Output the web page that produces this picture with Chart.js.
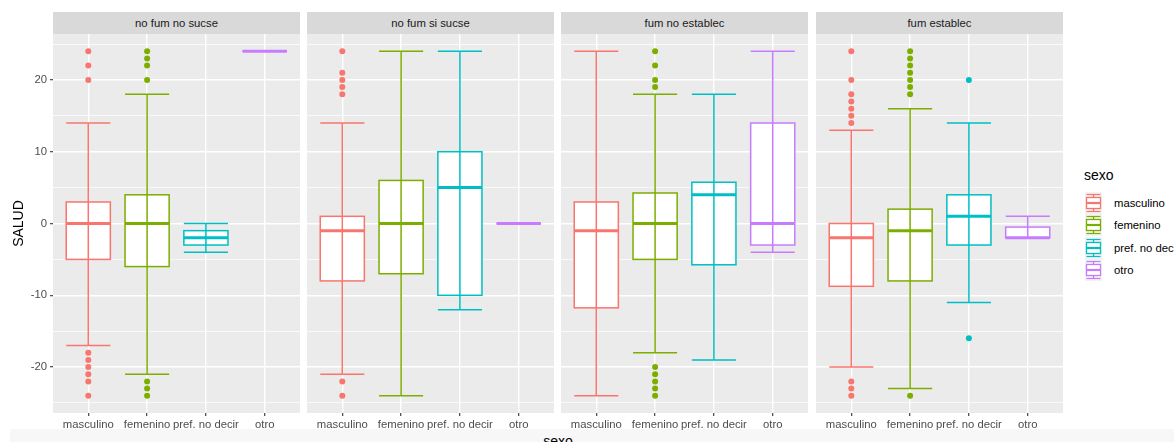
<!DOCTYPE html>
<html>
<head>
<meta charset="utf-8">
<script src="https://cdn.jsdelivr.net/npm/chart.js@4/dist/chart.umd.min.js"></script>
<style>
  html, body { margin: 0; padding: 0; background: #fff; overflow: hidden; }
  #lienzo { position: relative; width: 1174px; height: 442px; background: #fff; overflow: hidden;
            font-family: "Liberation Sans", Arial, Helvetica, sans-serif; }
  .tira { position: absolute; top: 12px; height: 22px; background: #D9D9D9; color: #1A1A1A;
          font-size: 11.3px; line-height: 22px; text-align: center; white-space: nowrap; }
  .panel { position: absolute; top: 34px; }
  #banda { position: absolute; left: 10px; top: 429px; width: 1164px; height: 13px; background: #F7F7F7; }
  #tituloX { position: absolute; top: 434px; left: 458px; width: 200px; text-align: center;
             font-size: 14px; line-height: 14px; color: #000; }
  #leyenda { position: absolute; left: 1084px; top: 167px; white-space: nowrap; }
  #leyenda .titulo { font-size: 14px; line-height: 16px; color: #000; margin-bottom: 9px; }
  #leyenda .fila { height: 22.3px; display: flex; align-items: center; }
  #leyenda svg { display: block; margin-left: 1px; }
  #leyenda span { font-size: 11.3px; color: #000; margin-left: 12px; }
</style>
</head>
<body>
<div id="lienzo">
  <div id="banda"></div>
  <div id="tituloX">sexo</div>
  <div id="leyenda"></div>
</div>
<script>
// Facets (smoking status) and groups (sex)
const facetas = ['no fum no sucse', 'no fum si sucse', 'fum no establec', 'fum establec'];
const sexos = ['masculino', 'femenino', 'pref. no decir', 'otro'];
const colores = ['#F8766D', '#7CAE00', '#00BFC4', '#C77CFF'];
const ticksY = [-25, -20, -15, -10, -5, 0, 5, 10, 15, 20, 25];

// Box summaries per sex: [lower whisker, Q1, median, Q3, upper whisker]
const resumenNoFumNoSucse = [[-17, -5, 0, 3, 14], [-21, -6, 0, 4, 18], [-4, -3, -2, -1, 0], [24, 24, 24, 24, 24]];
const resumenNoFumSiSucse = [[-21, -8, -1, 1, 14], [-24, -7, 0, 6, 24], [-12, -10, 5, 10, 24], [0, 0, 0, 0, 0]];
const resumenFumNoEstablec = [[-24, -11.75, -1, 3, 24], [-18, -5, 0, 4.25, 18], [-19, -5.75, 4, 5.75, 18], [-4, -3, 0, 14, 24]];
const resumenFumEstablec = [[-20, -8.75, -2, 0, 13], [-23, -8, -1, 2, 16], [-11, -3, 1, 4, 14], [-2, -2, -2, -0.5, 1]];

// Outlying values per sex
const atipicosNoFumNoSucse = [[24, 22, 20, -18, -19, -20, -21, -22, -24], [24, 23, 22, 20, -22, -23, -24], [], []];
const atipicosNoFumSiSucse = [[24, 21, 20, 19, 18, -22, -24], [], [], []];
const atipicosFumNoEstablec = [[], [24, 22, 20, 19, -20, -21, -22, -23, -24], [], []];
const atipicosFumEstablec = [[24, 20, 18, 17, 16, 15, 14, -22, -23, -24], [24, 23, 22, 21, 20, 19, 18, -24], [20, -16], []];

const resumenes = [resumenNoFumNoSucse, resumenNoFumSiSucse, resumenFumNoEstablec, resumenFumEstablec];
const atipicos = [atipicosNoFumNoSucse, atipicosNoFumSiSucse, atipicosFumNoEstablec, atipicosFumEstablec];

const FUENTE = '"Liberation Sans", Arial, Helvetica, sans-serif';
const panelX = [53, 307, 561, 816];
const ANCHO_PANEL = 247;
const ALTO_AREA = 379;
const ALTO_EJE_X = 22;
const ANCHO_EJE_Y = 53;

// Grey panel background behind the grid
const fondoPanel = {
  id: 'fondoPanel',
  beforeDraw(chart) {
    const a = chart.chartArea, ctx = chart.ctx;
    ctx.save();
    ctx.fillStyle = '#EBEBEB';
    ctx.fillRect(a.left, a.top, a.right - a.left, a.bottom - a.top);
    ctx.restore();
  }
};

// Boxes, medians and whisker bars, placed through the chart scales
const cajas = {
  id: 'cajas',
  beforeDatasetsDraw(chart, args, opts) {
    const sx = chart.scales.x, sy = chart.scales.y, ctx = chart.ctx;
    ctx.save();
    opts.resumen.forEach((r, i) => {
      const [lo, q1, med, q3, hi] = r;
      const xc = sx.getPixelForValue(i + 1);
      const mitad = sx.getPixelForValue(i + 1.375) - xc;
      const color = opts.colores[i];
      const yq1 = sy.getPixelForValue(q1), yq3 = sy.getPixelForValue(q3);
      // box
      ctx.fillStyle = '#FFFFFF';
      ctx.fillRect(xc - mitad, yq3, 2 * mitad, yq1 - yq3);
      ctx.strokeStyle = color;
      ctx.lineWidth = 1.5;
      ctx.strokeRect(xc - mitad, yq3, 2 * mitad, yq1 - yq3);
      // median
      const ym = sy.getPixelForValue(med);
      ctx.lineWidth = 3;
      ctx.beginPath();
      ctx.moveTo(xc - mitad, ym); ctx.lineTo(xc + mitad, ym);
      ctx.stroke();
      // whisker bar with caps
      const ylo = sy.getPixelForValue(lo), yhi = sy.getPixelForValue(hi);
      ctx.lineWidth = 1.5;
      ctx.beginPath();
      ctx.moveTo(xc, ylo); ctx.lineTo(xc, yhi);
      ctx.moveTo(xc - mitad, ylo); ctx.lineTo(xc + mitad, ylo);
      ctx.moveTo(xc - mitad, yhi); ctx.lineTo(xc + mitad, yhi);
      ctx.stroke();
    });
    ctx.restore();
  }
};

const lienzo = document.getElementById('lienzo');

facetas.forEach((faceta, p) => {
  const primero = p === 0;
  const izquierda = primero ? 0 : panelX[p];
  const ancho = primero ? panelX[0] + ANCHO_PANEL : ANCHO_PANEL;

  const tira = document.createElement('div');
  tira.className = 'tira';
  tira.style.left = panelX[p] + 'px';
  tira.style.width = ANCHO_PANEL + 'px';
  tira.textContent = faceta;
  lienzo.appendChild(tira);

  const caja = document.createElement('div');
  caja.className = 'panel';
  caja.style.left = izquierda + 'px';
  const canvas = document.createElement('canvas');
  canvas.width = ancho;
  canvas.height = ALTO_AREA + ALTO_EJE_X;
  canvas.style.width = ancho + 'px';
  canvas.style.height = (ALTO_AREA + ALTO_EJE_X) + 'px';
  caja.appendChild(canvas);
  lienzo.appendChild(caja);

  const datasets = sexos.map((s, i) => ({
    label: s,
    data: atipicos[p][i].map(v => ({ x: i + 1, y: v })),
    pointRadius: 3,
    pointHoverRadius: 3,
    pointBorderWidth: 0,
    pointBackgroundColor: colores[i],
    pointBorderColor: colores[i]
  }));

  new Chart(canvas, {
    type: 'scatter',
    data: { datasets },
    plugins: [fondoPanel, cajas],
    options: {
      responsive: false,
      animation: false,
      devicePixelRatio: 1,
      layout: { padding: 0, autoPadding: false },
      plugins: {
        legend: { display: false },
        tooltip: { enabled: false },
        cajas: { resumen: resumenes[p], colores }
      },
      scales: {
        x: {
          type: 'linear',
          min: 0.4,
          max: 4.6,
          afterBuildTicks: s => { s.ticks = [1, 2, 3, 4].map(v => ({ value: v })); },
          afterFit: s => { s.height = ALTO_EJE_X; s.paddingLeft = 0; s.paddingRight = 0; },
          border: { display: false },
          grid: { color: '#FFFFFF', lineWidth: 1.4, tickLength: 3, tickColor: '#333333', tickWidth: 1.1 },
          ticks: {
            autoSkip: false, maxRotation: 0, minRotation: 0, padding: 2,
            color: '#4D4D4D', font: { family: FUENTE, size: 11.3 },
            callback: v => sexos[v - 1]
          }
        },
        y: {
          type: 'linear',
          min: -26.4,
          max: 26.4,
          afterBuildTicks: s => { s.ticks = ticksY.map(v => ({ value: v })); },
          afterFit: s => { s.width = primero ? ANCHO_EJE_Y : 0; s.paddingTop = 0; s.paddingBottom = 0; },
          border: { display: false },
          title: {
            display: primero, text: 'SALUD', color: '#000000',
            font: { family: FUENTE, size: 14 }, padding: { top: 10.6, bottom: 0 }
          },
          grid: {
            color: '#FFFFFF',
            lineWidth: c => (c.tick && c.tick.value % 10 === 0) ? 1.4 : 0.7,
            drawTicks: primero,
            tickLength: 3,
            tickWidth: 1.1,
            tickColor: c => (c.tick && c.tick.value % 10 === 0) ? '#333333' : 'rgba(0,0,0,0)'
          },
          ticks: {
            display: primero, padding: 3, color: '#4D4D4D',
            font: { family: FUENTE, size: 11.3 },
            callback: v => (v % 10 === 0 ? String(v) : '')
          }
        }
      }
    }
  });
});

// Legend for sexo
const leyenda = document.getElementById('leyenda');
let html = '<div class="titulo">sexo</div>';
sexos.forEach((s, i) => {
  const c = colores[i];
  html += '<div class="fila"><svg width="17" height="22" viewBox="0 0 17 22">' +
    '<rect x="0" y="0" width="17" height="22" fill="#F2F2F2"/>' +
    '<line x1="8.5" y1="2.5" x2="8.5" y2="19.5" stroke="' + c + '" stroke-width="1.3"/>' +
    '<rect x="1.5" y="5.5" width="14" height="11" fill="#FFFFFF" stroke="' + c + '" stroke-width="1.3"/>' +
    '<line x1="1.5" y1="11" x2="15.5" y2="11" stroke="' + c + '" stroke-width="2.2"/>' +
    '<line x1="1.5" y1="2.5" x2="15.5" y2="2.5" stroke="' + c + '" stroke-width="1.2"/>' +
    '<line x1="1.5" y1="19.5" x2="15.5" y2="19.5" stroke="' + c + '" stroke-width="1.2"/>' +
    '</svg><span>' + s + '</span></div>';
});
leyenda.innerHTML = html;
</script>
</body>
</html>
